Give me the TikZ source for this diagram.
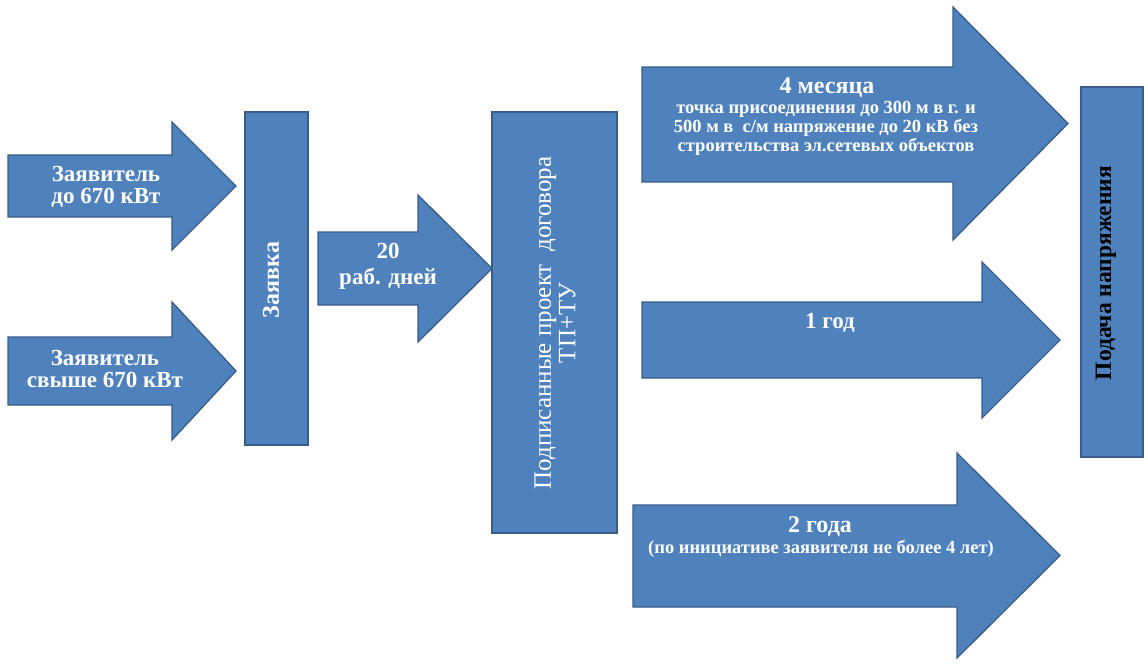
\documentclass[tikz,border=0pt]{standalone}
\usepackage{fontspec}
\setmainfont{Liberation Serif}
\definecolor{fillblue}{HTML}{4F81BD}
\definecolor{edgeblue}{HTML}{385D8A}
\newcommand\blockarrow[7]{%
  \path[shape blue] (#1,#2) -- (#4,#2) -- (#4,#5) -- (#7,{(#5+#6)/2}) -- (#4,#6) -- (#4,#3) -- (#1,#3) -- cycle;}
\begin{document}
\begin{tikzpicture}[x=1pt,y=-1pt,
  shape blue/.style={fill=fillblue,draw=edgeblue,line width=1.3pt,line join=miter},
  wtext/.style={text=white,font=\bfseries\fontsize{23}{21.5}\selectfont,align=center,inner sep=0pt},
  stext/.style={text=white,font=\bfseries\fontsize{18.5}{19}\selectfont,align=center,inner sep=0pt}]
\useasboundingbox[fill=white] (0,0) rectangle (1144,664);
% arrows
\blockarrow{8}{155}{217}{172}{122}{250}{236}
\blockarrow{8}{337}{405}{172}{302}{440}{236}
\blockarrow{318}{232}{305}{418}{195}{342}{492}
\blockarrow{642}{67}{182}{953}{7}{240}{1068}
\blockarrow{642}{302}{378}{982}{262}{418}{1060}
\blockarrow{633}{505}{607}{957}{453}{658}{1060}
% boxes
\path[shape blue] (245,112) rectangle (308,445);
\path[shape blue] (492,112) rectangle (617,533);
\path[shape blue] (1081,87) rectangle (1143,457);
% texts
\node[wtext] (a1) at (106,187) {Заявитель\\до 670 кВт};
\node[wtext] (a2) at (105,369) {Заявитель\\свыше 670 кВт};
\node[wtext,font=\bfseries\fontsize{24}{24}\selectfont,rotate=90] (zv) at (271,280) {Заявка};
\node[wtext,font=\bfseries\fontsize{23}{26}\selectfont] (d20) at (388,266) {20\\раб. дней};
\node[text=white,font=\fontsize{25}{24.5}\selectfont,align=center,inner sep=0pt,rotate=90] (tp) at (555,323) {Подписанные проект\ \ договора\\ТП+ТУ};
\node[wtext,font=\bfseries\fontsize{24}{24}\selectfont] (m4) at (827,88) {4 месяца};
\node[stext,anchor=north] (m4t) at (826,101) {точка присоединения до 300 м в г. и\\500 м в\ \ с/м напряжение до 20 кВ без\\строительства эл.сетевых объектов};
\node[wtext] (g1) at (830,323) {1 год};
\node[wtext,font=\bfseries\fontsize{24}{24}\selectfont] (g2) at (820,527) {2 года};
\node[stext] (g2t) at (821,549) {(по инициативе заявителя не более 4 лет)};
\node[wtext,font=\bfseries\fontsize{23.5}{24}\selectfont,text=black,rotate=90] (pn) at (1106,273) {Подача напряжения};
\end{tikzpicture}
\end{document}
